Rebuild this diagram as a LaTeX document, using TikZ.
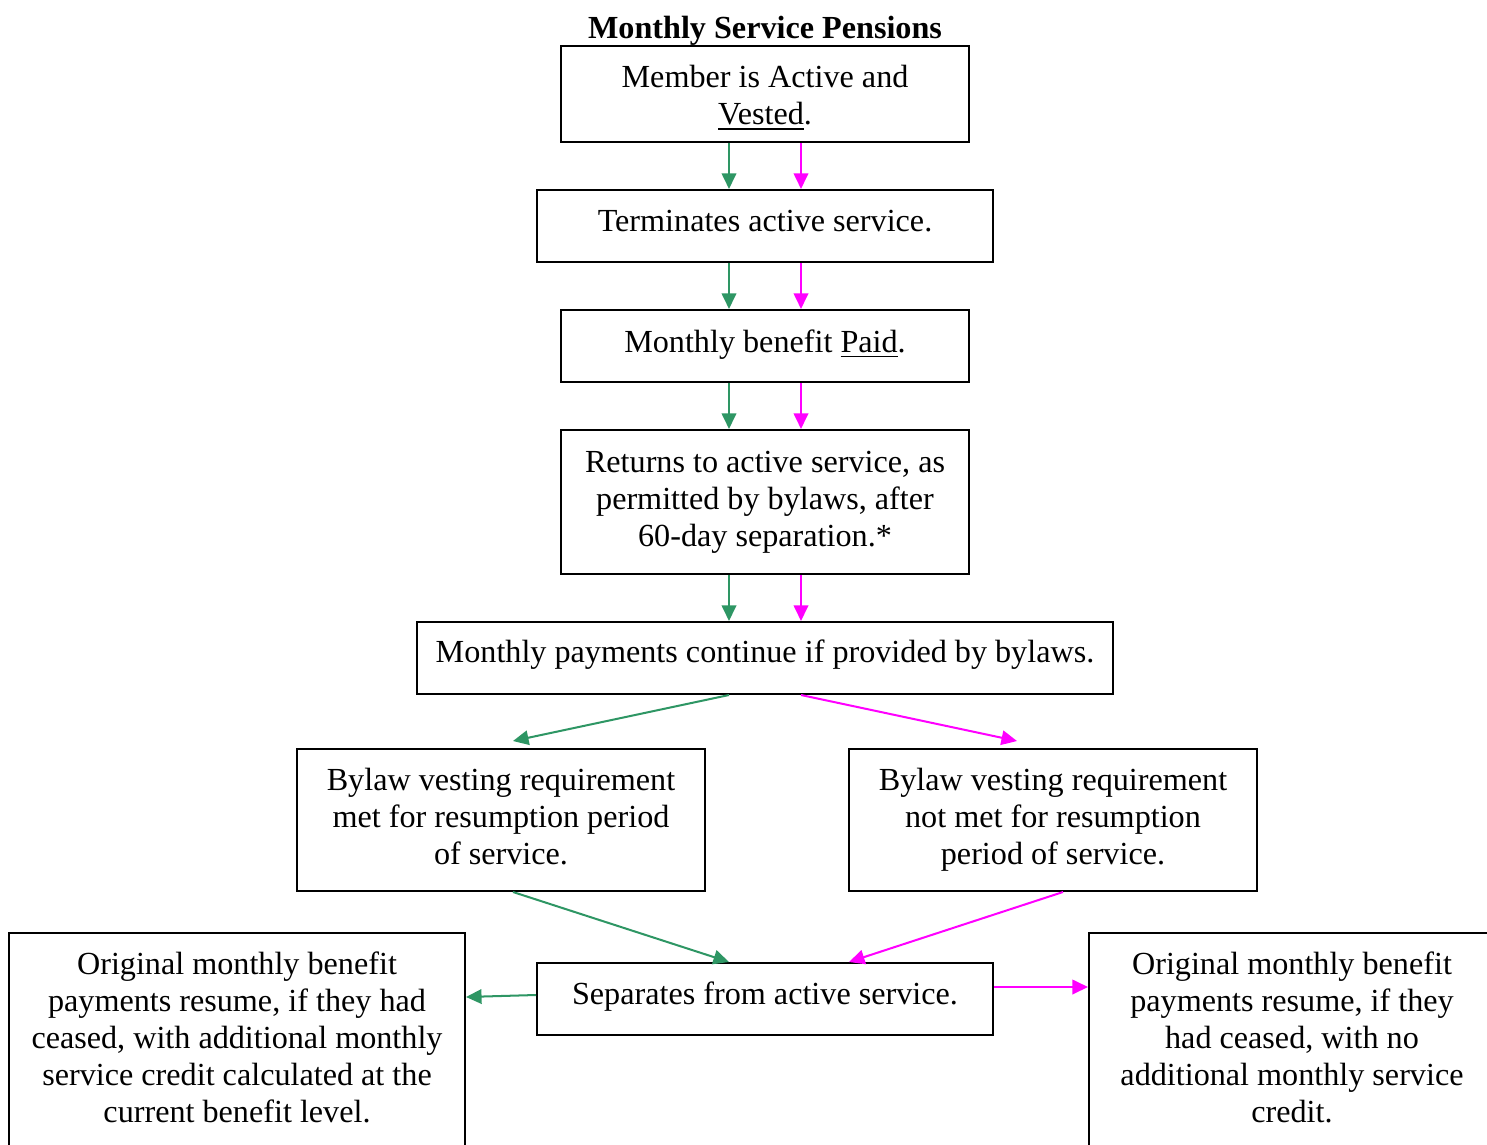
\documentclass[tikz,border=0pt]{standalone}
\usepackage{fontspec}
\setmainfont{Liberation Serif}
\usetikzlibrary{arrows.meta}
\definecolor{pgreen}{RGB}{46,150,100}
\definecolor{pmag}{RGB}{255,0,255}
\newcommand\mkbox[5]{\node[box,minimum width={(#4-#2)*0.373pt},minimum height={(#5-#3)*0.373pt}] (#1) at ({(#2+#4)/2},{(#3+#5)/2}) {};}
\begin{document}
\begin{tikzpicture}[x=0.373pt,y=-0.373pt,
  box/.style={draw,line width=0.75pt,inner sep=0pt},
  txt/.style={align=center,font=\fontsize{12}{13.8}\selectfont,inner sep=0pt},
  garr/.style={draw=pgreen,line width=0.75pt,-{Triangle[length=5.8pt,width=5.4pt]}},
  marr/.style={draw=pmag,line width=0.75pt,-{Triangle[length=5.8pt,width=5.4pt]}}]
\useasboundingbox (0,0) rectangle (1487,1145);
\clip (0,0) rectangle (1487,1145);
\coordinate (gx) at (729,0);
\coordinate (mx) at (801,0);
% title
\node[txt,font=\fontsize{12}{13.8}\selectfont\bfseries] (title) at (765,31) {Monthly Service Pensions};
% boxes
\mkbox{b1}{561}{46}{969}{142}
\mkbox{b2}{537}{190}{993}{262}
\mkbox{b3}{561}{310}{969}{382}
\mkbox{b4}{561}{430}{969}{574}
\mkbox{b5}{417}{622}{1113}{694}
\mkbox{b6}{297}{749}{705}{891}
\mkbox{b7}{849}{749}{1257}{891}
\mkbox{b8}{537}{963}{993}{1035}
\mkbox{b9}{9}{933}{465}{1300}
\mkbox{b10}{1089}{933}{1495}{1300}
% texts
\node[txt] (t1) at (765,98) {Member is Active and\\\underline{Vested}.};
\node[txt] (t2) at (765,221) {Terminates active service.};
\node[txt] (t3) at (765,345) {Monthly benefit \underline{Paid}.};
\node[txt] (t4) at (765,502) {Returns to active service, as\\permitted by bylaws, after\\60-day separation.*};
\node[txt] (t5) at (765,655) {Monthly payments continue if provided by bylaws.};
\node[txt] (t6) at (501,817) {Bylaw vesting requirement\\met for resumption period\\of service.};
\node[txt] (t7) at (1053,820) {Bylaw vesting requirement\\not met for resumption\\period of service.};
\node[txt] (t8) at (765,997) {Separates from active service.};
\node[txt] (t9) at (237,1037) {Original monthly benefit\\payments resume, if they had\\ceased, with additional monthly\\service credit calculated at the\\current benefit level.};
\node[txt] (t10) at (1292,1037) {Original monthly benefit\\payments resume, if they\\had ceased, with no\\additional monthly service\\credit.};
% vertical connectors
\draw[garr] (b1.south -| gx) -- (b2.north -| gx);
\draw[marr] (b1.south -| mx) -- (b2.north -| mx);
\draw[garr] (b2.south -| gx) -- (b3.north -| gx);
\draw[marr] (b2.south -| mx) -- (b3.north -| mx);
\draw[garr] (b3.south -| gx) -- (b4.north -| gx);
\draw[marr] (b3.south -| mx) -- (b4.north -| mx);
\draw[garr] (b4.south -| gx) -- (b5.north -| gx);
\draw[marr] (b4.south -| mx) -- (b5.north -| mx);
% split
\draw[garr] (b5.south -| gx) -- ([shift={(12,-7)}]b6.north);
\draw[marr] (b5.south -| mx) -- ([shift={(-36,-7)}]b7.north);
% merge
\draw[garr] ([shift={(12,0)}]b6.south) -- (b8.north -| gx);
\draw[marr] ([shift={(10,0)}]b7.south) -- ([shift={(84,0)}]b8.north);
% outcomes
\draw[garr] ([shift={(0,-4)}]b8.west) -- ([shift={(0,-2)}]b8.west -| b9.east);
\draw[marr] ([shift={(0,-12)}]b8.east) -- ([shift={(0,-12)}]b8.east -| b10.west);
\end{tikzpicture}
\end{document}
